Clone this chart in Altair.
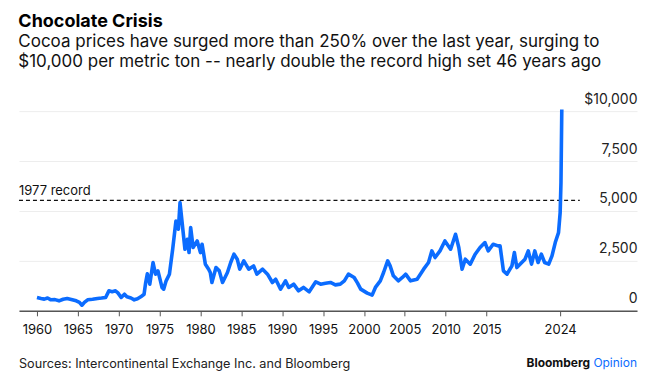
import altair as alt
import pandas as pd

years = [
    1960.0, 1960.5, 1960.9, 1961.3, 1961.7, 1962.2, 1962.7, 1963.2, 1963.7, 1964.2,
    1964.8, 1965.2, 1965.5, 1965.8, 1966.2, 1966.8, 1967.4, 1967.9, 1968.4, 1968.8,
    1969.2, 1969.6, 1969.9, 1970.3, 1970.7, 1971.0, 1971.5, 1971.9, 1972.3, 1972.7,
    1973.1, 1973.3, 1973.5, 1973.8, 1974.2, 1974.5, 1974.8, 1975.1, 1975.3, 1975.5,
    1975.8, 1976.2, 1976.6, 1977.0, 1977.3, 1977.5, 1977.8, 1978.1, 1978.4, 1978.6,
    1978.8, 1979.1, 1979.6, 1980.0, 1980.2, 1980.6, 1981.0, 1981.2, 1981.4, 1981.9,
    1982.3, 1982.7, 1983.3, 1983.7, 1984.1, 1984.5, 1984.8, 1985.3, 1985.9, 1986.5,
    1986.9, 1987.6, 1988.2, 1988.8, 1989.2, 1989.8, 1990.4, 1990.8, 1991.4, 1992.0,
    1992.6, 1993.3, 1994.1, 1994.7, 1995.3, 1995.9, 1996.5, 1997.1, 1997.6, 1998.1,
    1998.8, 1999.2, 1999.6, 2000.4, 2001.0, 2001.4, 2002.0, 2002.4, 2002.9, 2003.2,
    2003.6, 2004.2, 2004.7, 2005.1, 2005.7, 2006.5, 2007.3, 2007.9, 2008.3, 2008.7,
    2009.3, 2009.9, 2010.6, 2011.2, 2011.6, 2012.0, 2012.4, 2013.0, 2013.6, 2014.2,
    2014.8, 2015.2, 2015.8, 2016.4, 2016.65, 2017.06, 2017.5, 2018.1, 2018.4, 2018.7,
    2019.3, 2019.7, 2020.1, 2020.5, 2020.9, 2021.3, 2021.7, 2022.1, 2022.6, 2023.0,
    2023.4, 2023.8, 2024.0, 2024.1, 2024.2,
]
prices = [
    670, 620, 585, 640, 550, 560, 500, 580, 620, 570,
    500, 420, 280, 420, 550, 580, 620, 640, 670, 1000,
    960, 1000, 900, 670, 830, 700, 640, 550, 600, 700,
    830, 1418, 1850, 1335, 2418, 1835, 2000, 1500, 1168, 1085,
    1500, 1835, 3085, 4500, 4085, 5418, 4250, 3085, 3585, 2918,
    4168, 3168, 3500, 2918, 3335, 2335, 2085, 1918, 1418, 2168,
    2000, 1418, 1918, 2418, 2835, 2585, 2085, 2500, 2085, 2250,
    1835, 2085, 1835, 1418, 1580, 1085, 1500, 1170, 1335, 1000,
    1170, 950, 1450, 1335, 1380, 1418, 1300, 1335, 1500, 1835,
    1670, 1400, 1085, 885, 785, 1170, 1500, 1918, 2500, 2250,
    1750, 1500, 1670, 1835, 1500, 1585, 2085, 2418, 3000, 2668,
    3000, 3500, 3085, 3835, 3168, 2085, 2585, 2335, 2835, 3168,
    3418, 3000, 3335, 3250, 3250, 2000, 1835, 2250, 2918, 2165,
    2418, 2585, 3000, 2335, 3000, 2418, 2835, 2418, 2335, 2750,
    3418, 3918, 4918, 6418, 10085,
]

tick_years = [1960, 1965, 1970, 1975, 1980, 1985, 1990, 1995, 2000, 2005, 2010, 2015, 2024]
y_ticks = [0, 2500, 5000, 7500, 10000]
x_domain = [1957.8, 2033.4]
record_value = 5535
record_span = [1957.8, 2026.4]
record_label = "1977 record"

title_text = "Chocolate Crisis"
subtitle_lines = [
    "Cocoa prices have surged more than 250% over the last year, surging to",
    "$10,000 per metric ton -- nearly double the record high set 46 years ago",
]
source_text = "Sources: Intercontinental Exchange Inc. and Bloomberg"

FONT = "Inter"
BLUE = "#0b6cff"

df = pd.DataFrame({"year": years, "price": prices})
rec = pd.DataFrame({"x": [record_span[0]], "x2": [record_span[1]], "y": [record_value], "label": [record_label]})

W, H = 619, 200

x_scale = alt.Scale(domain=x_domain, nice=False, zero=False)
y_scale = alt.Scale(domain=[0, 10000], nice=False)

line = alt.Chart(df).mark_line(color=BLUE, strokeWidth=3.6, strokeJoin="round").encode(
    x=alt.X("year:Q", scale=x_scale,
            axis=alt.Axis(values=tick_years, format="d", title=None, grid=False,
                          domainColor="#555", domainWidth=1.5, tickColor="#555",
                          tickSize=5, tickWidth=1, labelFont=FONT, labelFontSize=13,
                          labelColor="#111", labelPadding=8, labelFlush=False)),
    y=alt.Y("price:Q", scale=y_scale,
            axis=alt.Axis(values=y_ticks, orient="right", title=None, domain=False,
                          ticks=False, tickSize=0, labelPadding=0, labelAlign="right",
                          labelBaseline="alphabetic", labelOffset=-8,
                          labelFont=FONT, labelFontSize=14, labelColor="#222",
                          gridColor="#ededed", gridWidth=1,
                          labelExpr="datum.value == 10000 ? '$10,000' : format(datum.value, ',')")),
)

rule = alt.Chart(rec).mark_rule(color="#111", strokeDash=[4, 3], strokeWidth=1.3).encode(
    x=alt.X("x:Q", scale=x_scale), x2="x2:Q", y=alt.Y("y:Q", scale=y_scale)
)

rec_text = alt.Chart(rec).mark_text(align="left", baseline="alphabetic", dy=-5,
                                    font=FONT, fontSize=13, color="#111").encode(
    x=alt.X("x:Q", scale=x_scale), y=alt.Y("y:Q", scale=y_scale), text="label:N"
)

foot_df = pd.DataFrame({"t": [source_text]})
source = alt.Chart(foot_df).mark_text(align="left", baseline="alphabetic", font=FONT,
                                      fontSize=12.7, color="#222").encode(
    x=alt.value(0), y=alt.value(257.5), text="t:N"
)
brand_df = pd.DataFrame({"t": ["Bloomberg"]})
brand = alt.Chart(brand_df).mark_text(align="right", baseline="alphabetic", font=FONT,
                                      fontSize=12, fontWeight="bold", color="#111").encode(
    x=alt.value(W - 47), y=alt.value(256), text="t:N"
)
op_df = pd.DataFrame({"t": ["Opinion"]})
opinion = alt.Chart(op_df).mark_text(align="right", baseline="alphabetic", font=FONT,
                                     fontSize=12, color=BLUE).encode(
    x=alt.value(W), y=alt.value(256), text="t:N"
)

chart = alt.layer(rule, rec_text, line, source, brand, opinion).properties(
    width=W, height=H,
    padding={"left": 10, "top": 5, "right": 1, "bottom": 2},
    title=alt.Title(title_text, subtitle=subtitle_lines, anchor="start",
                    font=FONT, fontSize=18, fontWeight="bold", color="#000",
                    subtitleFont=FONT, subtitleFontSize=17, subtitleColor="#111",
                    subtitleLineHeight=20, subtitlePadding=3, offset=22),
).configure_view(stroke=None)

chart.save("out.html", embed_options={"renderer": "svg", "actions": False})
